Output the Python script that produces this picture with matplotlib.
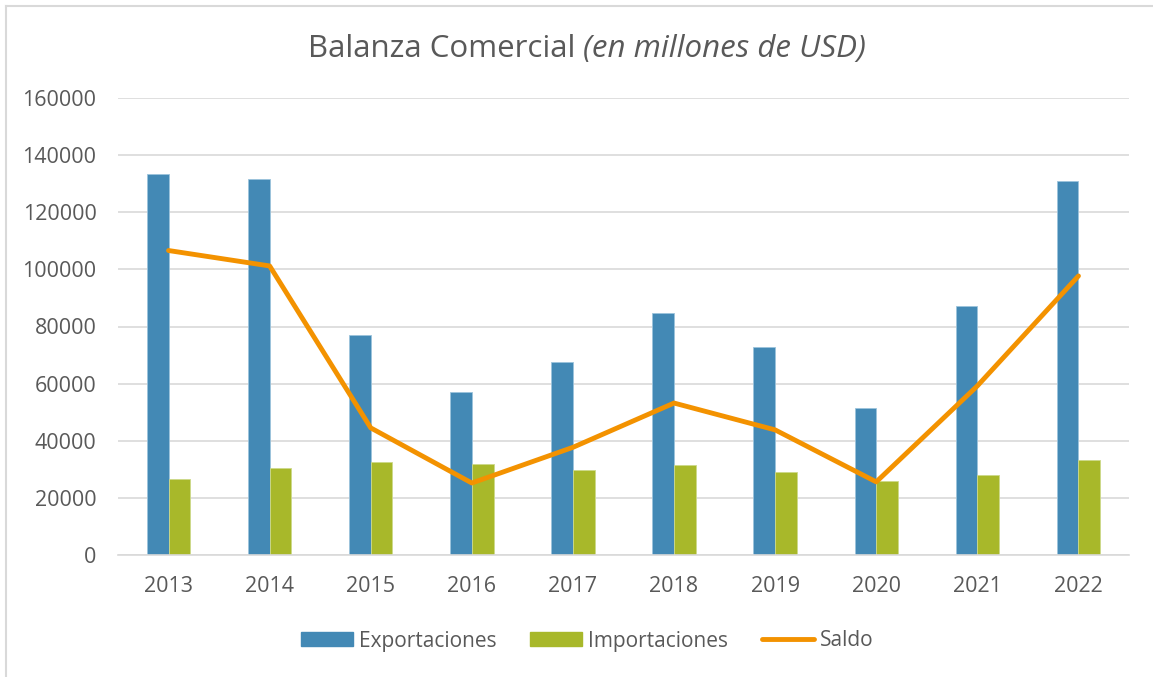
import matplotlib
matplotlib.use("Agg")
import matplotlib.pyplot as plt
from matplotlib.lines import Line2D
import numpy as np

plt.rcParams['font.family'] = ['Open Sans', 'DejaVu Sans']

years = ['2013', '2014', '2015', '2016', '2017', '2018', '2019', '2020', '2021', '2022']
exportaciones = [133300, 131600, 77000, 57200, 67500, 84800, 72900, 51500, 87200, 130900]
importaciones = [26700, 30400, 32500, 32000, 29800, 31600, 29100, 25800, 28000, 33300]
saldo = [106600, 101200, 44500, 25200, 37700, 53200, 43800, 25600, 59200, 97700]

c_exp = '#4389b5'
c_imp = '#a8b82a'
c_sal = '#f39200'
txt = '#595959'

fig = plt.figure(figsize=(11.53, 6.77), dpi=100)
ax = fig.add_axes([118/1153, 1-555/677, (1129-118)/1153, (555-98)/677])

x = np.arange(len(years))
w = 0.215
ax.bar(x - w/2, exportaciones, w, color=c_exp, edgecolor='#9cc3dc', linewidth=0.6, label='Exportaciones', zorder=2)
ax.bar(x + w/2, importaciones, w, color=c_imp, edgecolor='#cdd98a', linewidth=0.6, label='Importaciones', zorder=2)
ax.plot(x, saldo, color=c_sal, linewidth=3.5, solid_capstyle='round', solid_joinstyle='round', label='Saldo', zorder=3)

ax.set_xlim(-0.5, len(years) - 0.5)
ax.set_ylim(0, 160000)
ax.set_yticks(np.arange(0, 160001, 20000))
ax.set_xticks(x)
ax.set_xticklabels(years)
ax.grid(axis='y', color='#d9d9d9', linewidth=1.2, zorder=0)
ax.set_axisbelow(True)
for s in ['top', 'right', 'left']:
    ax.spines[s].set_visible(False)
ax.spines['bottom'].set_color('#d9d9d9')
ax.spines['bottom'].set_linewidth(1.2)
ax.tick_params(axis='both', length=0, labelsize=15.5, colors=txt)
ax.tick_params(axis='y', pad=15.5)
ax.tick_params(axis='x', pad=15)

title_x = 583/1153
fig.text(title_x, 1-49/677, 'Balanza Comercial ', ha='right', va='center', fontsize=22.5, color=txt)
fig.text(title_x, 1-49/677, '(en millones de USD)', ha='left', va='center', fontsize=22.5, color=txt, style='italic')

handles = [
    plt.Rectangle((0, 0), 1, 1, color=c_exp),
    plt.Rectangle((0, 0), 1, 1, color=c_imp),
    Line2D([0], [0], color=c_sal, linewidth=3.5, solid_capstyle='round'),
]
leg = fig.legend(handles, ['Exportaciones', 'Importaciones', 'Saldo'], loc='center',
                 bbox_to_anchor=(587/1153, 1-641/677), ncol=3, frameon=False, fontsize=15,
                 handlelength=2.5, handleheight=0.67, handletextpad=0.3, columnspacing=1.6)
for t in leg.get_texts():
    t.set_color(txt)

# chart border (top and left)
fig.add_artist(Line2D([6/1153, 1], [1-6/677, 1-6/677], color='#d9d9d9', linewidth=1.5, transform=fig.transFigure))
fig.add_artist(Line2D([6/1153, 6/1153], [0, 1-6/677], color='#d9d9d9', linewidth=1.5, transform=fig.transFigure))

fig.savefig('out.png', dpi=100)
